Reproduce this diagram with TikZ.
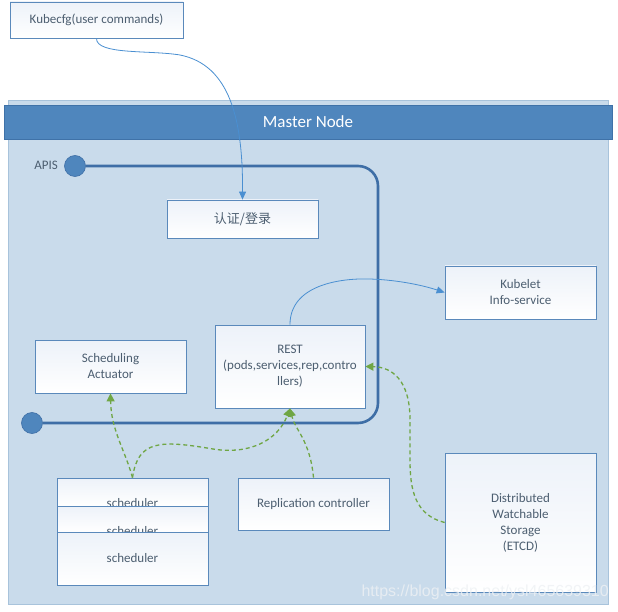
\documentclass[tikz,border=0pt]{standalone}
\usepackage{fontspec}
\setmainfont{Carlito}
\newfontfamily\cjk{Noto Sans CJK SC}
\newfontfamily\wmfont{Liberation Sans}
\usetikzlibrary{arrows.meta}
\definecolor{bgblue}{HTML}{C9DBEB}
\definecolor{bgedge}{HTML}{A8C3DB}
\definecolor{hdr}{HTML}{4F86BD}
\definecolor{hdredge}{HTML}{3F72A8}
\definecolor{apiline}{HTML}{3E6EA6}
\definecolor{boxline}{HTML}{5A89BB}
\definecolor{boxtop}{HTML}{EDF2F9}
\definecolor{txt}{HTML}{4C5E70}
\definecolor{grn}{HTML}{6FA644}
\definecolor{conn}{HTML}{4A8FD1}
\definecolor{wmgray}{HTML}{EEF1F4}
\tikzset{
  box/.style={draw=boxline, line width=0.8pt, top color=boxtop, bottom color=white,
    inner sep=0pt, align=center, text=txt, font=\fontsize{13}{16}\selectfont},
  lbl/.style={inner sep=0pt, text=txt, font=\fontsize{13}{16}\selectfont},
  blueconn/.style={draw=conn, line width=0.8pt, -{Triangle[length=8pt,width=7pt]}},
  greenconn/.style={draw=grn, line width=1.3pt, dash pattern=on 4pt off 3pt,
    -{Triangle[length=8pt,width=8pt,fill=grn]}},
  apipath/.style={draw=apiline, line width=2.6pt},
  apidot/.style={circle, fill=hdr, draw=apiline, line width=0.6pt, minimum size=21pt, inner sep=0pt}
}
\begin{document}
\begin{tikzpicture}[x=1pt,y=-1pt]
\useasboundingbox (0,0) rectangle (618,612);
% container
\node[draw=bgedge, fill=bgblue, line width=1pt, minimum width=600pt, minimum height=503pt, inner sep=0pt] (master) at (308,352.5) {};
\node[draw=hdredge, fill=hdr, line width=0.6pt, minimum width=608pt, minimum height=34pt, inner sep=0pt,
  text=white, font=\fontsize{17}{20}\selectfont] (header) at (308,122) {Master Node};
% APIS line
\node[apidot] (api1) at (75,166) {};
\node[apidot] (api2) at (32,423) {};
\node[lbl, anchor=east] (apis) at (58,165) {APIS};
\draw[apipath, rounded corners=20pt] (api1.east) -- (378,166) -- (378,423) -- (api2.east);
% boxes
\node[box, minimum width=173pt, minimum height=36pt] (kube) at (96.5,20) {Kubecfg(user commands)};
\node[box, minimum width=151pt, minimum height=38pt] (auth) at (242.5,219) {\cjk 认证/登录};
\node[box, minimum width=151pt, minimum height=53pt] (kubelet) at (520.5,292.5) {Kubelet\\Info-service};
\node[box, minimum width=150pt, minimum height=83pt] (rest) at (290,366.5) {REST\\(pods,services,rep,contro\\llers)};
\node[box, minimum width=151pt, minimum height=53pt] (act) at (110.5,366.5) {Scheduling\\Actuator};
\node[box, minimum width=151pt, minimum height=52pt] (repl) at (313.5,504) {Replication controller};
\node[box, minimum width=151pt, minimum height=139pt] (etcd) at (520.5,522.5) {Distributed\\Watchable\\Storage\\(ETCD)};
% scheduler stack
\node[box, minimum width=151pt, minimum height=28pt] (s1) at (132.5,492) {};
\node[lbl] (s1t) at (132.5,503) {scheduler};
\node[box, minimum width=151pt, minimum height=26pt] (s2) at (132.5,519) {};
\node[lbl] (s2t) at (132.5,531) {scheduler};
\node[box, minimum width=151pt, minimum height=53pt] (s3) at (132.5,558.5) {scheduler};
% blue connectors
\draw[blueconn] (kube.south) .. controls (96,55) and (150,50) .. (180,55)
  .. controls (230,65) and (243,120) .. (auth.north);
\draw[blueconn] (rest.north) .. controls (290,285) and (340,278) .. (370,279)
  .. controls (400,280) and (425,286) .. (kubelet.west);
% green connectors
\draw[greenconn] (s1.north) .. controls (125,450) and (111,430) .. (act.south);
\draw[greenconn] (s1.north) .. controls (138,440) and (160,440) .. (213,449)
  .. controls (250,455) and (278,440) .. (rest.south);
\draw[greenconn] (repl.north) .. controls (310,440) and (295,430) .. (rest.south);
\draw[greenconn] (etcd.west) .. controls (415,515) and (410,490) .. (410,460) -- (410,420)
  .. controls (410,380) and (392,367) .. (rest.east);
% watermark
\node[inner sep=0pt, text=wmgray, opacity=0.8, font=\wmfont\fontsize{16}{18}\selectfont, anchor=east] (wm) at (609,592) {https://blog.csdn.net/ysl465639310};
\end{tikzpicture}
\end{document}
